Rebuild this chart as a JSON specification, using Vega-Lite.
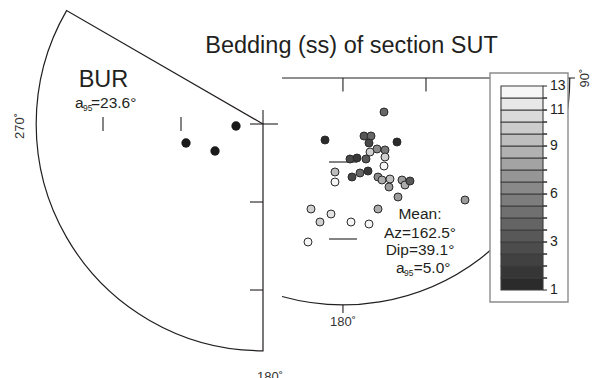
{
  "$schema": "https://vega.github.io/schema/vega-lite/v6.json",
  "autosize": {"type": "none"},
  "width": 592,
  "height": 378,
  "padding": 0,
  "background": "white",
  "config": {
    "view": {"stroke": null},
    "font": "Liberation Sans",
    "text": {"font": "Liberation Sans", "color": "#231f20"}
  },
  "datasets": {
    "nets": [
      {"net": "BUR", "cx": -35.25, "cy": -20.28, "r": 100},
      {"net": "SUT", "cx": 0, "cy": 0, "r": 100}
    ],
    "segments": [
      {"x": -35.25, "y": -14.11, "x2": -35.25, "y2": -20.28},
      {"x": -40.98, "y": -20.28, "x2": -28.64, "y2": -20.28},
      {"x": -40.98, "y": -54.67, "x2": -35.25, "y2": -54.67},
      {"x": -40.98, "y": -93.47, "x2": -35.25, "y2": -93.47},
      {"x": -105.79, "y": -17.19, "x2": -105.79, "y2": -23.37},
      {"x": -71.4, "y": -17.19, "x2": -71.4, "y2": -23.37},
      {"x": -26.87, "y": 0, "x2": 102.3, "y2": 0},
      {"x": 0, "y": 0, "x2": 0, "y2": -6.0},
      {"x": 36.61, "y": 0, "x2": 36.61, "y2": -6.0},
      {"x": -6.15, "y": -37.03, "x2": 6.19, "y2": -37.03},
      {"x": -6.15, "y": -70.98, "x2": 6.19, "y2": -70.98},
      {"x": 0, "y": -100, "x2": 0, "y2": -103.6}
    ],
    "bur": [
      {"x": -47.15, "y": -21.16},
      {"x": -69.2, "y": -28.66},
      {"x": -56.41, "y": -32.18}
    ],
    "sut": [
      {"x": 18.1, "y": -14.99, "v": 5},
      {"x": -7.91, "y": -27.33, "v": 1},
      {"x": 9.28, "y": -25.57, "v": 4},
      {"x": 12.37, "y": -25.57, "v": 5},
      {"x": 23.83, "y": -28.21, "v": 1},
      {"x": 11.48, "y": -28.66, "v": 3},
      {"x": 15.01, "y": -31.3, "v": 7},
      {"x": 18.54, "y": -31.74, "v": 6},
      {"x": 11.93, "y": -32.62, "v": 11},
      {"x": 3.11, "y": -35.71, "v": 3},
      {"x": 6.19, "y": -35.27, "v": 2},
      {"x": 10.16, "y": -35.71, "v": 4},
      {"x": 18.54, "y": -34.83, "v": 11},
      {"x": 18.1, "y": -38.8, "v": 13},
      {"x": -3.51, "y": -41.44, "v": 10},
      {"x": -3.51, "y": -45.85, "v": 13},
      {"x": 3.99, "y": -43.65, "v": 3},
      {"x": 7.52, "y": -41.88, "v": 5},
      {"x": 11.04, "y": -41.0, "v": 2},
      {"x": 15.45, "y": -43.65, "v": 7},
      {"x": 17.22, "y": -44.97, "v": 9},
      {"x": 20.74, "y": -44.53, "v": 10},
      {"x": 20.3, "y": -48.05, "v": 8},
      {"x": 26.03, "y": -44.97, "v": 8},
      {"x": 27.36, "y": -47.17, "v": 9},
      {"x": 29.56, "y": -45.41, "v": 4},
      {"x": 24.27, "y": -52.46, "v": 8},
      {"x": 53.81, "y": -53.79, "v": 8},
      {"x": -14.09, "y": -57.75, "v": 11},
      {"x": -5.27, "y": -59.96, "v": 12},
      {"x": -10.12, "y": -63.49, "v": 11},
      {"x": 3.55, "y": -63.49, "v": 13},
      {"x": 11.48, "y": -64.37, "v": 13},
      {"x": 15.45, "y": -57.75, "v": 9},
      {"x": -15.41, "y": -72.3, "v": 13}
    ],
    "box": [{"x": 64.83, "y": 2.21, "x2": 99.22, "y2": -98.76}],
    "bands": [
      {"v": 1, "lo": -93.47, "hi": -88.18},
      {"v": 1.75, "lo": -88.18, "hi": -82.89},
      {"v": 2.5, "lo": -82.89, "hi": -77.6},
      {"v": 3.25, "lo": -77.6, "hi": -72.31},
      {"v": 4, "lo": -72.31, "hi": -67.02},
      {"v": 4.75, "lo": -67.02, "hi": -61.73},
      {"v": 5.5, "lo": -61.73, "hi": -56.44},
      {"v": 6.25, "lo": -56.44, "hi": -51.15},
      {"v": 7, "lo": -51.15, "hi": -45.86},
      {"v": 7.75, "lo": -45.86, "hi": -40.57},
      {"v": 8.5, "lo": -40.57, "hi": -35.28},
      {"v": 9.25, "lo": -35.28, "hi": -29.99},
      {"v": 10, "lo": -29.99, "hi": -24.7},
      {"v": 10.75, "lo": -24.7, "hi": -19.41},
      {"v": 11.5, "lo": -19.41, "hi": -14.12},
      {"v": 12.25, "lo": -14.12, "hi": -8.83},
      {"v": 13, "lo": -8.83, "hi": -3.54}
    ],
    "scaleLabels": [
      {"t": "1", "y": -93.47},
      {"t": "3", "y": -72.31},
      {"t": "6", "y": -51.15},
      {"t": "9", "y": -29.99},
      {"t": "11", "y": -14.12},
      {"t": "13", "y": -3.54}
    ],
    "headings": [
      {"t": "Bedding (ss) of section SUT", "x": 3.77, "y": 11.02},
      {"t": "BUR", "x": -105.57, "y": -3.97}
    ],
    "meanLines": [
      {"t": "Mean:", "x": 33.97, "y": -62.3},
      {"t": "Az=162.5°", "x": 33.97, "y": -70.4},
      {"t": "Dip=39.1°", "x": 33.97, "y": -78.1},
      {"t": "=5.0°", "x": 39.3, "y": -85.8}
    ],
    "alphaMain": [
      {"t": "a", "x": -118.13, "y": -13.22},
      {"t": "=23.6°", "x": -111.08, "y": -13.22},
      {"t": "a", "x": 23.39, "y": -85.8}
    ],
    "alphaSub": [
      {"t": "95", "x": -114.61, "y": -14.55},
      {"t": "95", "x": 26.92, "y": -87.1}
    ],
    "azFlat": [
      {"t": "180˚", "x": -32.16, "y": -131.6},
      {"t": "180˚", "x": 0, "y": -107.5}
    ],
    "azTurned": [
      {"t": "270˚", "x": -142.38, "y": -21.16},
      {"t": "90˚", "x": 106.9, "y": 0}
    ]
  },
  "layer": [
    {
      "data": {"name": "nets"},
      "transform": [{"filter": "datum.net === 'BUR'"}],
      "mark": {"type": "arc", "theta": 3.14159, "theta2": 5.23599, "filled": false, "stroke": "#231f20", "strokeWidth": 1.2},
      "encoding": {
        "x": {"field": "cx", "type": "quantitative", "scale": {"domain": [-151.2, 109.8], "nice": false, "zero": false}, "axis": null},
        "y": {"field": "cy", "type": "quantitative", "scale": {"domain": [-132.26, 34.39], "nice": false, "zero": false}, "axis": null},
        "radius": {"field": "r", "type": "quantitative", "scale": {"type": "linear", "domain": [0, 100], "range": [0, 226.82], "zero": true}}
      }
    },
    {
      "data": {"name": "nets"},
      "transform": [{"filter": "datum.net === 'SUT'"}],
      "mark": {"type": "arc", "theta": 1.5708, "theta2": 3.4136, "filled": false, "stroke": "#231f20", "strokeWidth": 1.2},
      "encoding": {
        "x": {"field": "cx", "type": "quantitative", "axis": null},
        "y": {"field": "cy", "type": "quantitative", "axis": null},
        "radius": {"field": "r", "type": "quantitative"},
        "radius2": {"field": "r"}
      }
    },
    {
      "data": {"name": "segments"},
      "mark": {"type": "rule", "stroke": "#231f20", "strokeWidth": 1.1},
      "encoding": {
        "x": {"field": "x", "type": "quantitative", "axis": null},
        "y": {"field": "y", "type": "quantitative", "axis": null},
        "x2": {"field": "x2"},
        "y2": {"field": "y2"}
      }
    },
    {
      "data": {"name": "bur"},
      "mark": {"type": "circle", "size": 86, "fill": "#1a1a1a", "opacity": 1},
      "encoding": {
        "x": {"field": "x", "type": "quantitative", "axis": null},
        "y": {"field": "y", "type": "quantitative", "axis": null}
      }
    },
    {
      "data": {"name": "sut"},
      "mark": {"type": "circle", "size": 64, "stroke": "#2a2a2a", "strokeWidth": 1, "opacity": 1},
      "encoding": {
        "x": {"field": "x", "type": "quantitative", "axis": null},
        "y": {"field": "y", "type": "quantitative", "axis": null},
        "fill": {"field": "v", "type": "quantitative", "scale": {"domain": [1, 13], "range": ["#2b2b2b", "#f6f6f6"]}, "legend": null}
      }
    },
    {
      "data": {"name": "box"},
      "mark": {"type": "rect", "fill": "white", "stroke": "#8c8c8c", "strokeWidth": 1.4},
      "encoding": {
        "x": {"field": "x", "type": "quantitative", "axis": null},
        "y": {"field": "y", "type": "quantitative", "axis": null},
        "x2": {"field": "x2"},
        "y2": {"field": "y2"}
      }
    },
    {
      "data": {"name": "bands"},
      "mark": {"type": "rect", "stroke": "#3c3c3c", "strokeWidth": 1.1},
      "encoding": {
        "x": {"datum": 69.68, "type": "quantitative", "axis": null},
        "x2": {"datum": 88.2},
        "y": {"field": "lo", "type": "quantitative", "axis": null},
        "y2": {"field": "hi"},
        "fill": {"field": "v", "type": "quantitative", "legend": null}
      }
    },
    {
      "data": {"name": "bands"},
      "mark": {"type": "rule", "stroke": "#3c3c3c", "strokeWidth": 1.1},
      "encoding": {
        "x": {"datum": 88.2, "type": "quantitative", "axis": null},
        "x2": {"datum": 90.0},
        "y": {"field": "lo", "type": "quantitative", "axis": null}
      }
    },
    {
      "data": {"name": "bands"},
      "mark": {"type": "rule", "stroke": "#3c3c3c", "strokeWidth": 1.1},
      "encoding": {
        "x": {"datum": 88.2, "type": "quantitative", "axis": null},
        "x2": {"datum": 90.0},
        "y": {"field": "hi", "type": "quantitative", "axis": null}
      }
    },
    {
      "data": {"name": "scaleLabels"},
      "mark": {"type": "text", "align": "left", "baseline": "middle", "fontSize": 14},
      "encoding": {
        "x": {"datum": 91.3, "type": "quantitative", "axis": null},
        "y": {"field": "y", "type": "quantitative", "axis": null},
        "text": {"field": "t"}
      }
    },
    {
      "data": {"name": "headings"},
      "mark": {"type": "text", "align": "center", "baseline": "alphabetic", "fontSize": 23.5},
      "encoding": {
        "x": {"field": "x", "type": "quantitative", "axis": null},
        "y": {"field": "y", "type": "quantitative", "axis": null},
        "text": {"field": "t"}
      }
    },
    {
      "data": {"name": "meanLines"},
      "mark": {"type": "text", "align": "center", "baseline": "alphabetic", "fontSize": 15.5},
      "encoding": {
        "x": {"field": "x", "type": "quantitative", "axis": null},
        "y": {"field": "y", "type": "quantitative", "axis": null},
        "text": {"field": "t"}
      }
    },
    {
      "data": {"name": "alphaMain"},
      "mark": {"type": "text", "align": "left", "baseline": "alphabetic", "fontSize": 15.5},
      "encoding": {
        "x": {"field": "x", "type": "quantitative", "axis": null},
        "y": {"field": "y", "type": "quantitative", "axis": null},
        "text": {"field": "t"}
      }
    },
    {
      "data": {"name": "alphaSub"},
      "mark": {"type": "text", "align": "left", "baseline": "alphabetic", "fontSize": 8.5},
      "encoding": {
        "x": {"field": "x", "type": "quantitative", "axis": null},
        "y": {"field": "y", "type": "quantitative", "axis": null},
        "text": {"field": "t"}
      }
    },
    {
      "data": {"name": "azFlat"},
      "mark": {"type": "text", "align": "center", "baseline": "middle", "fontSize": 13, "color": "#333333"},
      "encoding": {
        "x": {"field": "x", "type": "quantitative", "axis": null},
        "y": {"field": "y", "type": "quantitative", "axis": null},
        "text": {"field": "t"}
      }
    },
    {
      "data": {"name": "azTurned"},
      "mark": {"type": "text", "align": "center", "baseline": "middle", "fontSize": 13, "angle": 270, "color": "#333333"},
      "encoding": {
        "x": {"field": "x", "type": "quantitative", "axis": null},
        "y": {"field": "y", "type": "quantitative", "axis": null},
        "text": {"field": "t"}
      }
    }
  ]
}
